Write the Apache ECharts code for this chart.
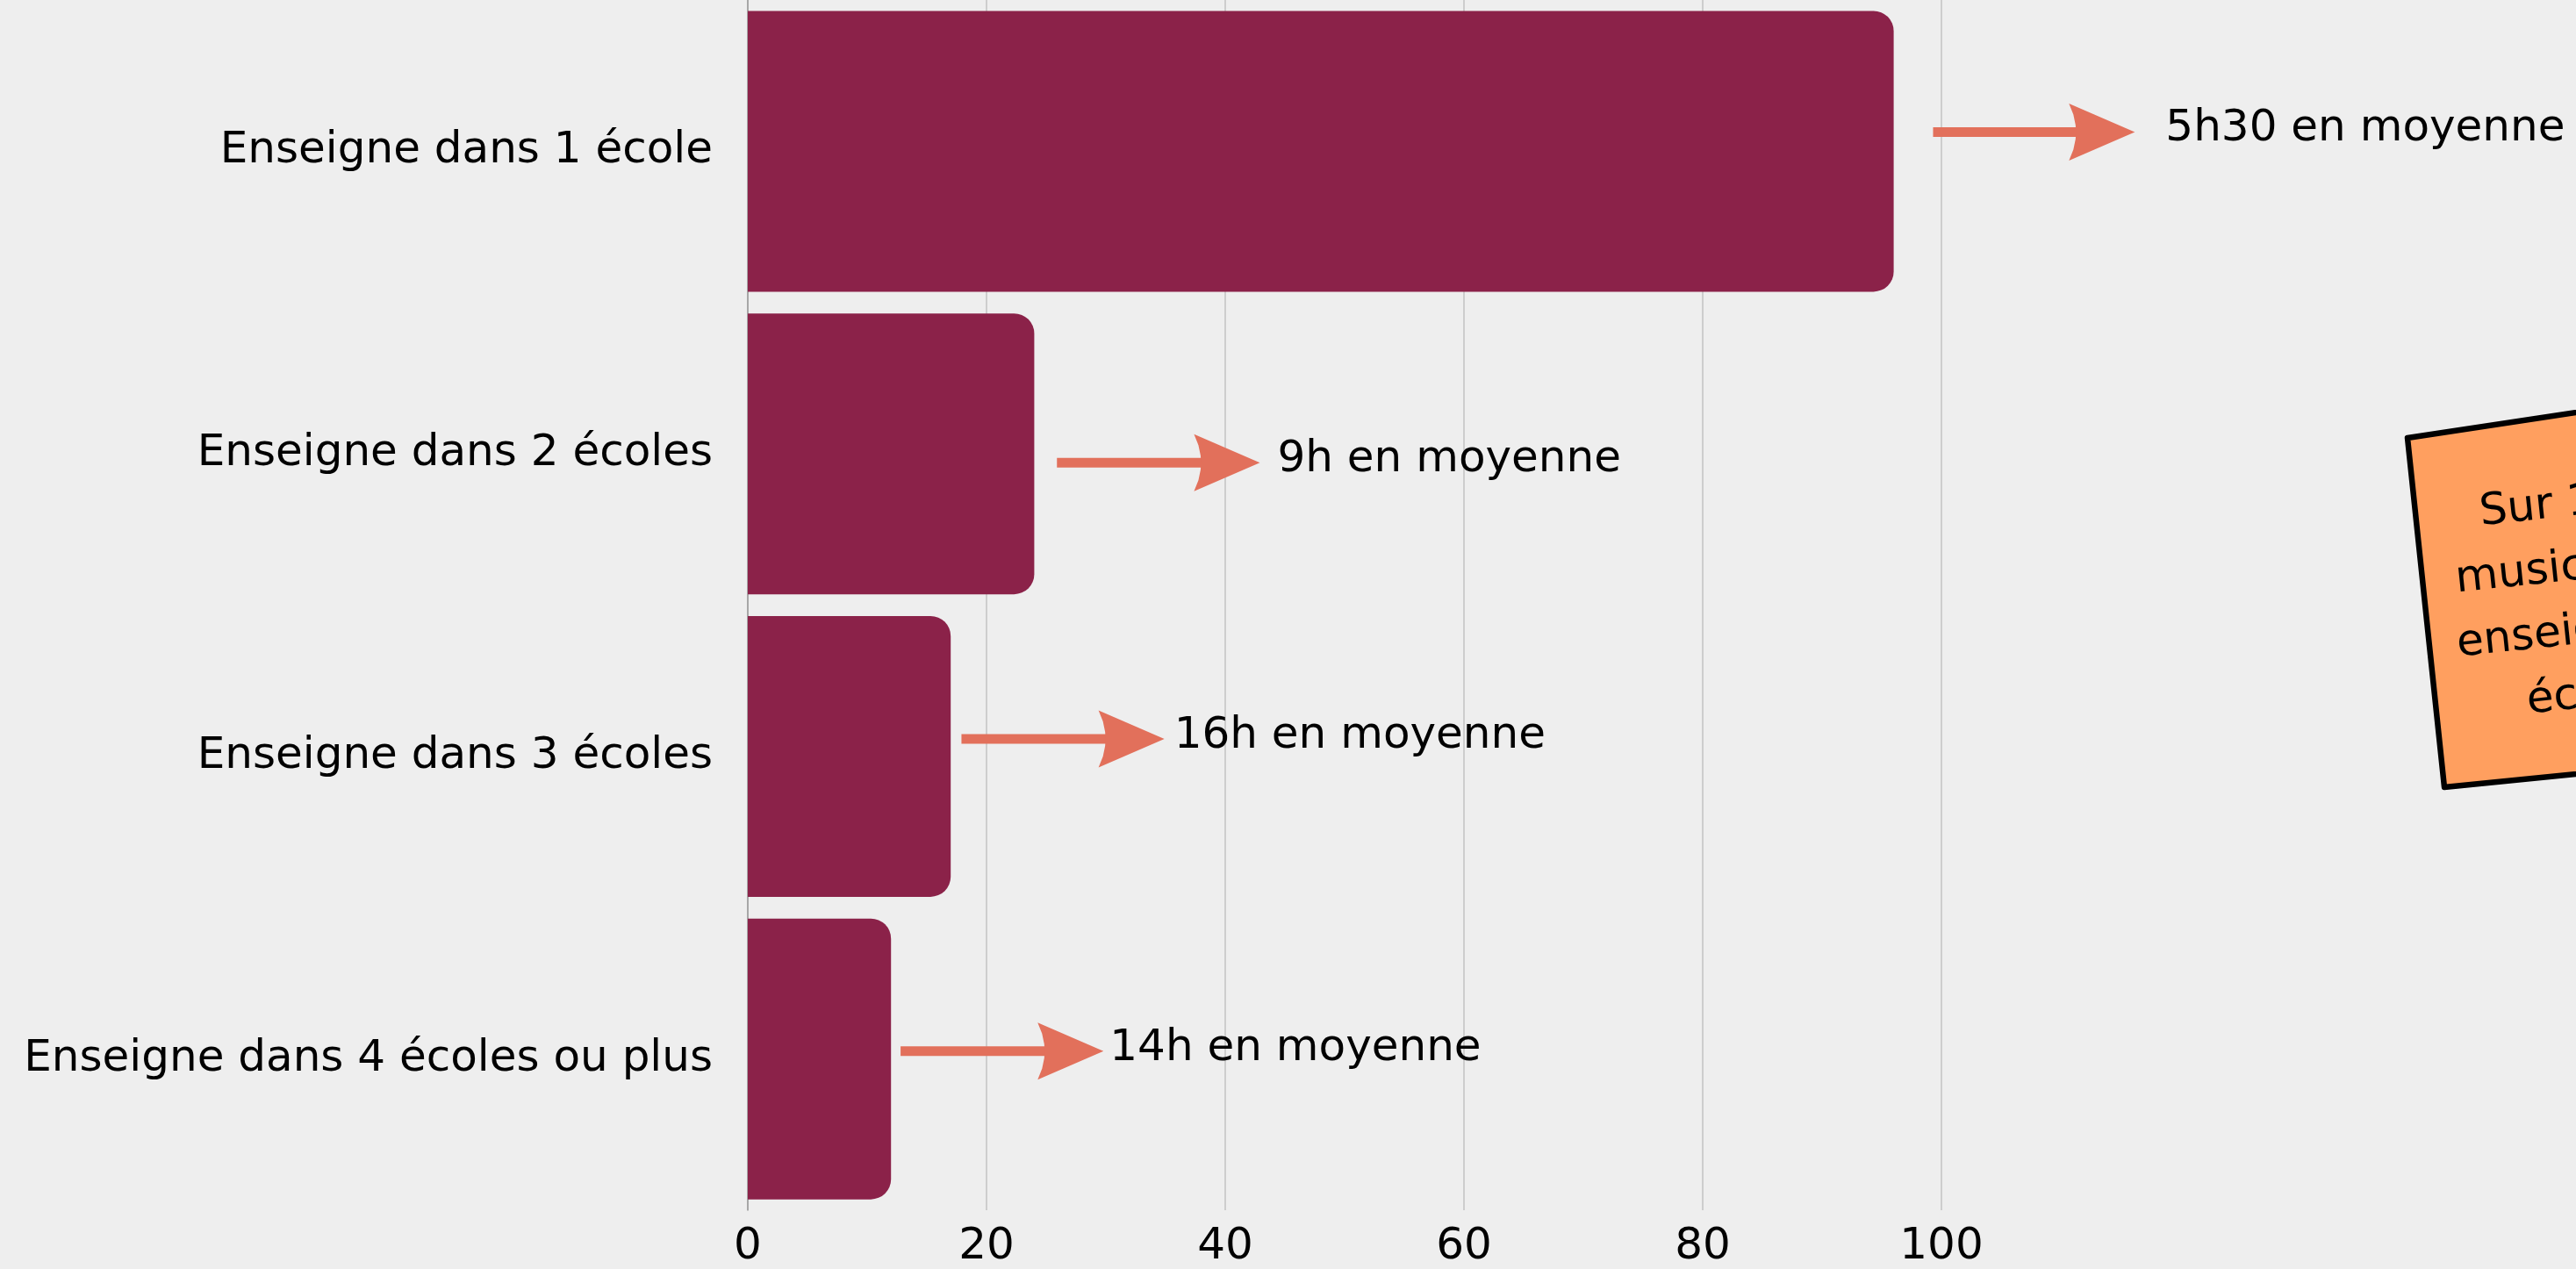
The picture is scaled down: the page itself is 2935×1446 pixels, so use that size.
<!DOCTYPE html>
<html>
<head>
<meta charset="utf-8">
<script src="https://cdn.jsdelivr.net/npm/echarts@6/dist/echarts.min.js"></script>
<style>
html,body{margin:0;padding:0;background:#eeeeee;}
#chart{width:2935px;height:1446px;}
</style>
</head>
<body>
<div id="chart"></div>
<script>
// ---- data ----
const categories = ['Enseigne dans 1 école', 'Enseigne dans 2 écoles', 'Enseigne dans 3 écoles', 'Enseigne dans 4 écoles ou plus'];
const values = [96, 24, 17, 12];
const arrowFrom = [99.3, 25.9, 17.9, 12.8];
const arrowTo = [116.2, 42.9, 34.9, 29.8];
const arrowLabels = ['5h30 en moyenne', '9h en moyenne', '16h en moyenne', '14h en moyenne'];
const xTicks = [0, 20, 40, 60, 80, 100];
const noteText = 'Sur 149\nmusiciens,\nenseignent\nécole';

// ---- layout / style constants ----
const FONT = '"DejaVu Sans", sans-serif';
const arrowDy = [-22, 10, -20, -9];
const labelGap = [35, 20, 11, 7];

const chart = echarts.init(document.getElementById('chart'), null, {renderer: 'canvas'});

const arrowData = categories.map((c, i) => [arrowFrom[i], arrowTo[i], i, arrowLabels[i]]);

chart.setOption({
  backgroundColor: '#eeeeee',
  animation: false,
  grid: {left: 852, right: 723, top: -3, height: 1385, containLabel: false},
  xAxis: {
    type: 'value', min: xTicks[0], max: xTicks[xTicks.length - 1], interval: 20,
    axisLine: {show: false}, axisTick: {show: false},
    splitLine: {show: true, lineStyle: {color: '#c2c2c2', width: 1.5}},
    axisLabel: {fontSize: 50, fontFamily: FONT, color: '#000', margin: 17}
  },
  yAxis: {
    type: 'category', inverse: true, data: categories,
    axisLine: {show: true, lineStyle: {color: '#9a9a9a', width: 1.5}},
    axisTick: {show: false},
    axisLabel: {fontSize: 50, fontFamily: FONT, color: '#000', margin: 40}
  },
  series: [
    {
      type: 'bar', data: values, barWidth: 320,
      itemStyle: {color: '#8b2249', borderRadius: [0, 23, 23, 0]},
      z: 2
    },
    {
      type: 'custom', data: arrowData, clip: false, z: 5,
      encode: {x: [0, 1], y: 2},
      renderItem: function (params, api) {
        const i = params.dataIndex;
        const p0 = api.coord([api.value(0), api.value(2)]);
        const p1 = api.coord([api.value(1), api.value(2)]);
        const y = p0[1] + arrowDy[i];
        const tip = p1[0];
        const col = '#e2705b';
        return {
          type: 'group',
          children: [
            {type: 'rect', shape: {x: p0[0], y: y - 5.5, width: tip - 66 - p0[0], height: 11}, style: {fill: col}},
            {type: 'polygon', shape: {points: [
              [tip, y], [tip - 75, y - 32.5], [tip - 70, y - 20], [tip - 67.5, y - 8], [tip - 67, y],
              [tip - 67.5, y + 8], [tip - 70, y + 20], [tip - 75, y + 32.5]
            ]}, style: {fill: col}},
            {type: 'text', x: tip + labelGap[i], y: y - 3, style: {
              text: arrowLabels[i], font: '50px ' + FONT, fill: '#000',
              align: 'left', verticalAlign: 'middle'
            }}
          ]
        };
      }
    }
  ],
  graphic: [
    {
      type: 'polygon', z: 10,
      shape: {points: [[2743, 499], [2785, 897], [3135, 862], [3100, 445]]},
      style: {fill: '#ff9f5f', stroke: '#000', lineWidth: 6.5, lineJoin: 'round'}
    },
    {
      type: 'text', z: 11, x: 2934, y: 684, rotation: 0.105,
      style: {text: noteText, font: '50px ' + FONT, fill: '#000', align: 'center', verticalAlign: 'middle', lineHeight: 73}
    }
  ]
});
</script>
</body>
</html>
